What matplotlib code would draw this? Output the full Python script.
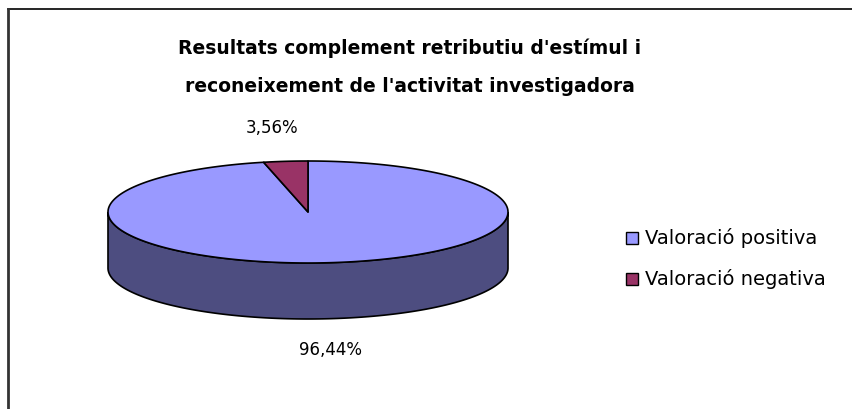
import numpy as np
import matplotlib.pyplot as plt
from matplotlib.patches import Polygon, Rectangle

labels = ['Valoració positiva', 'Valoració negativa']
values = [96.44, 3.56]
pct_text = ['96,44%', '3,56%']
top_colors = ['#9999FF', '#993366']
side_colors = ['#4D4D80', '#4D1A33']
title = "Resultats complement retributiu d'estímul i\nreconeixement de l'activitat investigadora"

cx, cy = 308, 212      # centre of top face (pixels)
rx, ry = 200, 51       # semi axes
depth = 56

fig = plt.figure(figsize=(8.52, 4.09), dpi=100)
ax = fig.add_axes([0, 0, 1, 1])
ax.set_xlim(0, 852)
ax.set_ylim(409, 0)
ax.axis('off')


def pt(a):
    a = np.radians(a)
    return cx + rx * np.cos(a), cy - ry * np.sin(a)


# angles: start at 12 o'clock, go clockwise
fracs = np.array(values) / sum(values)
ends = 90 - 360 * np.cumsum(fracs)
starts = np.concatenate(([90], ends[:-1]))

# side wall: only the front half (180..360 deg) is visible,
# and it lies entirely inside the first slice
t = np.linspace(180, 360, 200)
xs, ys = pt(t)
verts = list(zip(xs, ys)) + list(zip(xs[::-1], ys[::-1] + depth))
ax.add_patch(Polygon(verts, closed=True, fc=side_colors[0], ec='black', lw=1.2))

# top face
for i in range(len(values)):
    t = np.linspace(starts[i], ends[i], 300)
    xs, ys = pt(t)
    verts = [(cx, cy)] + list(zip(xs, ys))
    ax.add_patch(Polygon(verts, closed=True, fc=top_colors[i], ec='black', lw=1.2, joinstyle='round'))

# percentage labels
ax.text(272, 128, pct_text[1], ha='center', va='center', fontsize=12, family='DejaVu Sans')
ax.text(330, 350, pct_text[0], ha='center', va='center', fontsize=12, family='DejaVu Sans')

# title
ax.text(410, 67, title, ha='center', va='center', fontsize=13.5, fontweight='bold',
        family='DejaVu Sans', linespacing=2.3)

# legend
for i, (lab, yy) in enumerate(zip(labels, [238, 279])):
    ax.add_patch(Rectangle((626, yy - 6), 12, 12, fc=top_colors[i], ec='black', lw=1))
    ax.text(645, yy, lab, ha='left', va='center', fontsize=14, family='DejaVu Sans')

# chart frame
ax.plot([8, 852], [9, 9], color='black', lw=1.2)
ax.plot([8, 8], [9, 409], color='#333333', lw=2)

fig.savefig('out.png', dpi=100)
